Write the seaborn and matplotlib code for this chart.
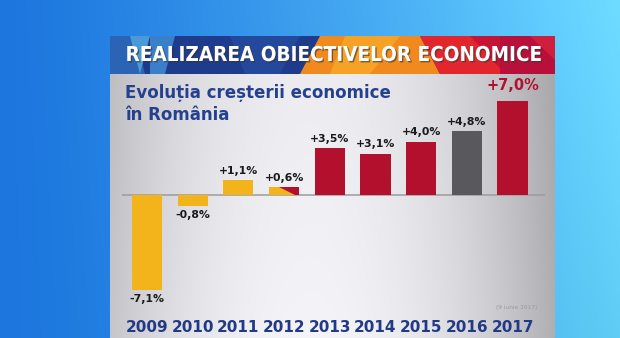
import numpy as np
import pandas as pd
import matplotlib
matplotlib.use("Agg")
import matplotlib.pyplot as plt
import matplotlib.patheffects as pe
from matplotlib.patches import Polygon
import seaborn as sns

# --- data -------------------------------------------------------------
years = ["2009", "2010", "2011", "2012", "2013", "2014", "2015", "2016", "2017"]
growth = [-7.1, -0.8, 1.1, 0.6, 3.5, 3.1, 4.0, 4.8, 7.0]
value_labels = ["-7,1%", "-0,8%", "+1,1%", "+0,6%", "+3,5%",
                "+3,1%", "+4,0%", "+4,8%", "+7,0%"]
bar_colors = ["#F2B31B", "#F2B31B", "#F2B31B", "#F2B31B", "#B3102E",
              "#B3102E", "#B3102E", "#59585D", "#B3102E"]
split_year = "2012"          # half yellow / half red bar
split_color = "#B3102E"

title = "REALIZAREA OBIECTIVELOR ECONOMICE"
subtitle = "Evoluția creșterii economice\nîn România"
note = "(9 iunie 2017)"

df = pd.DataFrame({"year": years, "growth": growth})

W, H = 620, 338
sns.set_theme(style="white")
plt.rcParams["font.family"] = ["DejaVu Sans"]

fig = plt.figure(figsize=(W / 100, H / 100), dpi=100)


def box(x0, y0, x1, y1):
    """pixel box (top-left origin) -> figure fraction rect"""
    return [x0 / W, 1 - y1 / H, (x1 - x0) / W, (y1 - y0) / H]


# --- backdrop: blue studio screen + grey panel -----------------------
bg = fig.add_axes([0, 0, 1, 1])
bg.set_xlim(0, W)
bg.set_ylim(H, 0)
bg.axis("off")

gx = np.linspace(0, 1, W)[None, :]
gy = np.linspace(0, 1, H)[:, None]
c_left = np.array([28, 118, 222]) / 255
c_right = np.array([95, 205, 245]) / 255
blue = c_left + (c_right - c_left) * gx[..., None] ** 1.3
blue = blue + 0.06 * (1 - gy[..., None]) * gx[..., None]
blue = np.clip(blue, 0, 1) * np.ones((H, W, 1))
bg.imshow(blue, extent=(0, W, H, 0), aspect="auto", zorder=0)

px0, px1, py0, py1 = 110, 555, 74, 338
u = np.linspace(-1, 1, px1 - px0)[None, :]
v = np.linspace(0, 1, py1 - py0)[:, None]
shade = 0.955 - 0.22 * np.abs(u + 0.1) ** 2.0 - 0.03 * (1 - v)
panel = np.clip(shade, 0, 1)[..., None] * np.array([1.0, 1.0, 1.02])[None, None, :]
panel = np.clip(panel, 0, 1)
bg.imshow(panel, extent=(px0, px1, py1, py0), aspect="auto", zorder=1)

# title banner made of coloured facets
by0, by1 = 36, 74
facets = [
    ([(110, by0), (555, by0), (555, by1), (110, by1)], "#1E3B8C"),
    ([(110, by0), (135, by0), (145, by1), (110, by1)], "#2B63B5"),
    ([(130, by0), (150, by0), (140, by1)], "#4A9AD8"),
    ([(150, by0), (175, by0), (165, by1), (150, by1)], "#3B7FCB"),
    ([(230, by0), (300, by0), (280, by1), (245, by1)], "#24489C"),
    ([(320, by0), (420, by0), (440, by1), (300, by1)], "#F08A1F"),
    ([(345, by0), (400, by0), (370, by1), (330, by1)], "#F5A226"),
    ([(420, by0), (500, by0), (500, by1), (440, by1)], "#E3262B"),
    ([(470, by0), (520, by0), (505, by1)], "#C81434"),
    ([(500, by0), (555, by0), (555, by1), (500, by1)], "#B8103A"),
    ([(530, by0), (555, by0), (555, 60)], "#D01E3F"),
]
for pts, col in facets:
    bg.add_patch(Polygon(pts, closed=True, facecolor=col, edgecolor="none", zorder=2))

bg.text(334, 55, title, color="white", fontsize=14.8, fontweight="heavy",
        fontstretch="condensed", ha="center", va="center", zorder=3,
        path_effects=[pe.withSimplePatchShadow(offset=(1, -1), shadow_rgbFace="#333333", alpha=0.6)])

bg.text(125, 104, subtitle, color="#25408F", fontsize=12, fontweight="bold",
        ha="left", va="center", linespacing=1.3, zorder=3)

bg.text(537, 308, note, color="#9A9A9A", fontsize=4.2, ha="right", va="center", zorder=3)

# --- the bar chart -----------------------------------------------------
ax = fig.add_axes(box(122, 80, 545, 300))
ax.patch.set_alpha(0)

sns.barplot(data=df, x="year", y="growth", hue="year", palette=bar_colors,
            width=0.66, saturation=1, legend=False, linewidth=0,
            edgecolor="none", ax=ax, zorder=3)

ax.set_xlim(-0.547, 8.71)
ax.set_ylim(-7.87, 8.61)
ax.axhline(0, color="#9C9C9C", lw=1.1, zorder=2)

# red diagonal half on the split bar
for patch, yr in zip(ax.patches, years):
    if yr == split_year:
        x, w, h = patch.get_x(), patch.get_width(), patch.get_height()
        ax.add_patch(Polygon([(x + 0.32 * w, h), (x + w, h), (x + w, 0), (x + 0.86 * w, 0)],
                             closed=True, facecolor=split_color, edgecolor="none", zorder=4))

# value labels
for i, (val, lab) in enumerate(zip(growth, value_labels)):
    last = i == len(growth) - 1
    if val >= 0:
        ax.annotate(lab, (i, val), xytext=(0, 6 if last else 3), textcoords="offset points",
                    ha="center", va="bottom",
                    fontsize=10.5 if last else 7.8, fontweight="heavy",
                    color="#B3102E" if last else "#1A1A1A", zorder=5)
    else:
        ax.annotate(lab, (i, val), xytext=(0, -3), textcoords="offset points",
                    ha="center", va="top", fontsize=7.8, fontweight="heavy",
                    color="#1A1A1A", zorder=5)

ax.set_xlabel("")
ax.set_ylabel("")
ax.set_yticks([])
ax.tick_params(axis="x", length=0, pad=14.5)
for t in ax.get_xticklabels():
    t.set_fontsize(11)
    t.set_fontweight("heavy")
    t.set_color("#223A85")
sns.despine(ax=ax, left=True, bottom=True)

fig.savefig("out.png", dpi=100)
